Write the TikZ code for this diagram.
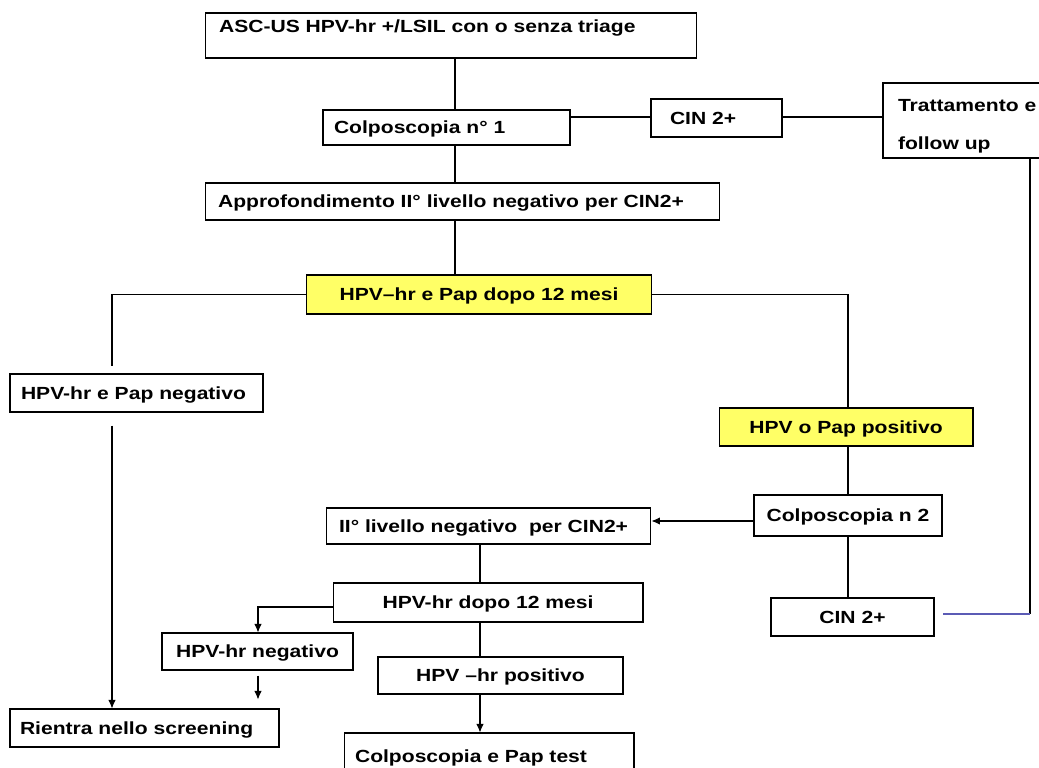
\documentclass[tikz,border=0pt]{standalone}
\usepackage{fontspec}
\setmainfont{Liberation Sans}[FakeStretch=1.2]
\usetikzlibrary{arrows.meta}
\definecolor{boxyellow}{HTML}{FFFF66}
\definecolor{linkblue}{HTML}{5B5BB5}
\tikzset{
  base/.style={draw, line width=0.6pt, inner xsep=0pt, inner ysep=0pt, align=center,
    font=\fontsize{10}{12}\selectfont\bfseries},
  box/.style={base, text height=0.32cm, text depth=0.08cm},
  lbox/.style={box, align=left},
  hilite/.style={box, fill=boxyellow},
  link/.style={line width=0.6pt},
}
\begin{document}
\begin{tikzpicture}[x=0.02cm, y=-0.02cm, >={Latex[length=1.7mm,width=1.5mm]}]
  \useasboundingbox (0,0) rectangle (1039,768);
  \clip (0,0) rectangle (1039,768);
  \coordinate (sp) at (455,0);
  \coordinate (lx) at (112,0);
  \coordinate (rx) at (848,0);
  \coordinate (mx) at (480,0);
  \coordinate (nx) at (258,0);
  \coordinate (r1) at (0,117);
  \coordinate (r2) at (0,521);
  \coordinate (r3) at (0,607);
  \coordinate (tc) at (1030,614);
  \node[lbox, minimum width=9.84cm, text width=9.28cm, inner xsep=0.28cm, text height=0.38cm, text depth=0.52cm] (asc) at (451,35.5) {ASC-US HPV-hr +/LSIL con o senza triage};
  \node[lbox, minimum width=4.94cm, minimum height=0.70cm, text width=4.50cm, inner xsep=0.22cm] (colpo1) at (446.5,127.5) {Colposcopia n° 1};
  \node[lbox, minimum width=10.3cm, minimum height=0.74cm, text width=9.78cm, inner xsep=0.26cm] (appro) at (462.5,201.5) {Approfondimento II° livello negativo per CIN2+};
  \node[lbox, minimum width=2.62cm, minimum height=0.76cm, text width=1.86cm, inner xsep=0.38cm] (cin1) at (716.5,118) {CIN 2+};
  \node[base, align=left, minimum width=3.5cm, minimum height=1.5cm, text width=2.9cm, inner xsep=0.3cm] (tratt) at (970.5,120.5) {\rule{0pt}{0.46cm}Trattamento e\\[9.5pt]follow up};
  \node[hilite, minimum width=6.92cm, minimum height=0.78cm] (yel1) at (479,294.5) {HPV–hr e Pap dopo 12 mesi};
  \node[lbox, minimum width=5.06cm, minimum height=0.76cm, text width=4.62cm, inner xsep=0.22cm] (neg1) at (136.5,393) {HPV-hr e Pap negativo};
  \node[hilite, minimum width=5.08cm, minimum height=0.76cm] (yel2) at (846,427) {HPV o Pap positivo};
  \node[box, minimum width=3.76cm, minimum height=0.82cm] (colpo2) at (848,515.5) {Colposcopia n 2};
  \node[box, minimum width=3.26cm, minimum height=0.76cm] (cin2) at (852.5,617) {CIN 2+};
  \node[lbox, minimum width=6.5cm, minimum height=0.72cm, text width=5.98cm, inner xsep=0.26cm] (liv2) at (488.5,526) {II° livello negativo\ \ per CIN2+};
  \node[box, minimum width=6.2cm, minimum height=0.78cm] (hpv12) at (488,602.5) {HPV-hr dopo 12 mesi};
  \node[box, minimum width=3.82cm, minimum height=0.74cm] (hneg) at (257.5,651.5) {HPV-hr negativo};
  \node[box, minimum width=4.9cm, minimum height=0.74cm] (hpos) at (500.5,675.5) {HPV –hr positivo};
  \node[lbox, minimum width=5.38cm, minimum height=0.76cm, text width=4.98cm, inner xsep=0.2cm] (rientra) at (144.5,728) {Rientra nello screening};
  \node[lbox, minimum width=5.8cm, minimum height=0.92cm, text width=5.36cm, inner xsep=0.22cm] (colpap) at (489,756) {Colposcopia e Pap test};
  \draw[link] (asc.south -| sp) -- (colpo1.north -| sp);
  \draw[link] (colpo1.south -| sp) -- (appro.north -| sp);
  \draw[link] (appro.south -| sp) -- (yel1.north -| sp);
  \draw[link] (colpo1.east |- r1) -- (cin1.west |- r1);
  \draw[link] (cin1.east |- r1) -- (tratt.west |- r1);
  \draw[link] (tratt.south -| tc) -- (tc);
  \draw[link, draw=linkblue] (tc) -- ([xshift=0.16cm]cin2.east |- tc);
  \draw[link] (yel1.west) -| ([yshift=0.14cm]neg1.north -| lx);
  \draw[link] (yel1.east) -| (yel2.north -| rx);
  \draw[link, ->] ([yshift=-0.26cm]neg1.south -| lx) -- (rientra.north -| lx);
  \draw[link] (yel2.south -| rx) -- (colpo2.north -| rx);
  \draw[link, ->] (colpo2.west |- r2) -- (liv2.east |- r2);
  \draw[link] (colpo2.south -| rx) -- (cin2.north -| rx);
  \draw[link] (liv2.south -| mx) -- (hpv12.north -| mx);
  \draw[link, ->] (hpv12.west |- r3) -| (hneg.north -| nx);
  \draw[link, ->, shorten <=0.1cm, shorten >=0.18cm] (hneg.south -| nx) -- (rientra.north -| nx);
  \draw[link] (hpv12.south -| mx) -- (hpos.north -| mx);
  \draw[link, ->] (hpos.south -| mx) -- (colpap.north -| mx);
\end{tikzpicture}
\end{document}
